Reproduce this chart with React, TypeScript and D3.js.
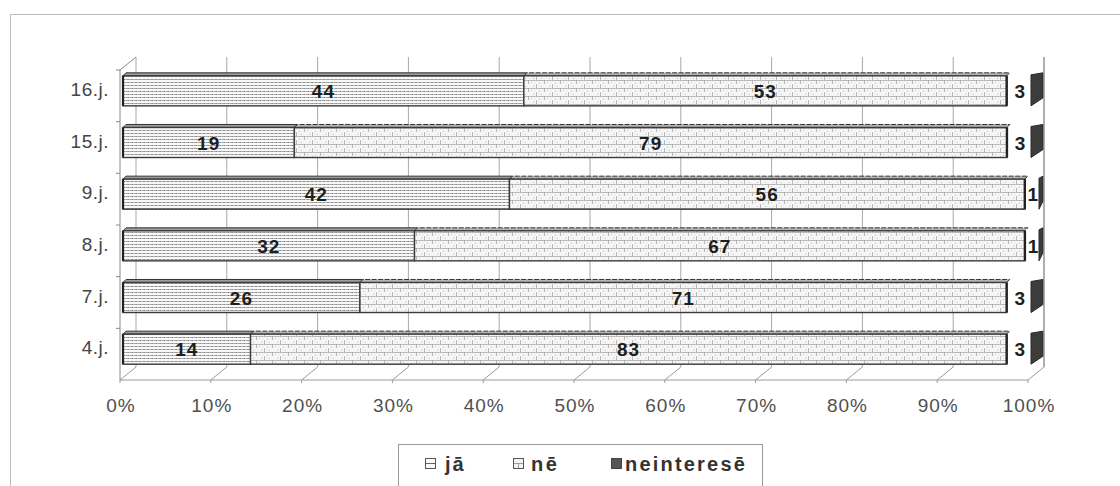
import React from "react";
import * as d3 from "d3";

const categories = ["16.j.", "15.j.", "9.j.", "8.j.", "7.j.", "4.j."];
const jaValues = [44, 19, 42, 32, 26, 14];
const neValues = [53, 79, 56, 67, 71, 83];
const neintValues = [3, 3, 1, 1, 3, 3];
const tickValues = [0, 10, 20, 30, 40, 50, 60, 70, 80, 90, 100];
const seriesNames = ["jā", "nē", "neinteresē"];

const W = 1120;
const H = 486;
const DX = 16;
const DY = -13;

export default function App() {
  const xFront = d3.scaleLinear().domain([0, 100]).range([120, 1028]);
  const xBar = d3.scaleLinear().domain([0, 100]).range([123, 1034]);
  const yAxis = d3.scaleBand().domain(categories).range([70, 380]).paddingInner(0.38).paddingOuter(0.19);
  const yBar = d3.scaleBand().domain(categories).range([63, 373]).paddingInner(0.38).paddingOuter(0.19);
  const sliverX = d3.scaleLinear().domain([0, 3]).range([xBar(100) + 9, xBar(100) - 3]);
  const bw = yBar.bandwidth();
  const step = yAxis.step();
  const floorY = 380;
  const topY = 70;

  const rows = categories.map((c, i) => {
    const total = jaValues[i] + neValues[i] + neintValues[i];
    const a = (jaValues[i] / total) * 100;
    const b = ((jaValues[i] + neValues[i]) / total) * 100;
    return { c, i, a, b, total };
  });

  const font = "'Liberation Sans', Arial, sans-serif";

  return (
    <svg width={W} height={H} style={{ position: "absolute", left: 0, top: 0, background: "#fff" }} fontFamily={font}>
      <defs>
        <pattern id="patJa" width={4} height={3} patternUnits="userSpaceOnUse">
          <rect width={4} height={3} fill="#f8f8f8" />
          <line x1={0} x2={4} y1={1.5} y2={1.5} stroke="#7a7a7a" strokeWidth={0.9} strokeDasharray="1.5,0.8" />
        </pattern>
        <pattern id="patNe" width={16} height={8} patternUnits="userSpaceOnUse">
          <rect width={16} height={8} fill="#f5f5f5" />
          <line x1={0} x2={16} y1={0.5} y2={0.5} stroke="#aaa" strokeWidth={0.8} />
          <line x1={0.5} x2={0.5} y1={0} y2={4} stroke="#aaa" strokeWidth={0.8} />
          <line x1={8.5} x2={8.5} y1={4} y2={8} stroke="#aaa" strokeWidth={0.8} />
          <rect x={3} y={2} width={1} height={1} fill="#c4c4c4" />
          <rect x={11} y={3} width={1} height={1} fill="#c4c4c4" />
          <rect x={5} y={6} width={1} height={1} fill="#c4c4c4" />
          <rect x={13} y={6} width={1} height={1} fill="#c4c4c4" />
        </pattern>
      </defs>

      {/* outer frame */}
      <rect x={10.5} y={14.5} width={1300} height={600} fill="none" stroke="#bdbdbd" strokeWidth={1} />

      {/* back wall gridlines */}
      {tickValues.map((t) => (
        <line key={"g" + t} x1={xFront(t) + DX} x2={xFront(t) + DX} y1={topY + DY} y2={floorY + DY} stroke="#a8a8a8" strokeWidth={1} />
      ))}
      {/* floor diagonals and front floor edge */}
      {tickValues.map((t) => (
        <g key={"f" + t}>
          <line x1={xFront(t)} y1={floorY} x2={xFront(t) + DX} y2={floorY + DY} stroke="#9a9a9a" strokeWidth={1} />
          <line x1={xFront(t)} y1={floorY} x2={xFront(t)} y2={floorY + 3} stroke="#9a9a9a" strokeWidth={1} />
        </g>
      ))}
      <line x1={xFront(0)} x2={xFront(100)} y1={floorY} y2={floorY} stroke="#9a9a9a" strokeWidth={1} />
      {/* left wall edges */}
      <line x1={xFront(0)} x2={xFront(0)} y1={topY} y2={floorY} stroke="#8a8a8a" strokeWidth={1} />
      <line x1={xFront(0)} y1={topY} x2={xFront(0) + DX} y2={topY + DY} stroke="#8a8a8a" strokeWidth={1} />
      {categories.map((c) => (
        <line key={"t" + c} x1={xFront(0) - 4} x2={xFront(0)} y1={(yAxis(c) as number) - (step - yAxis.bandwidth()) / 2} y2={(yAxis(c) as number) - (step - yAxis.bandwidth()) / 2} stroke="#8a8a8a" strokeWidth={1} />
      ))}

      {/* bars */}
      {rows.map((r) => {
        const y0 = yBar(r.c) as number;
        const yf = y0 + 3;
        const y1 = y0 + bw + 1;
        const x0 = xBar(0);
        const xa = xBar(r.a);
        const xb = xBar(r.b);
        const v = neintValues[r.i];
        const L = sliverX(v);
        const R = xBar(100) + 9;
        const ly = y0 + bw / 2 + 9;
        return (
          <g key={r.c}>
            {/* top faces */}
            <polygon points={`${x0},${yf} ${x0 + 3},${y0} ${xa + 3},${y0} ${xa},${yf}`} fill="#9c9c9c" stroke="#333" strokeWidth={1} />
            <polygon points={`${xa},${yf} ${xa + 3},${y0} ${xb + 3},${y0} ${xb},${yf}`} fill="#b4b4b4" stroke="#333" strokeWidth={1} strokeDasharray="5,1.5" />
            {/* front faces */}
            <rect x={x0} y={yf} width={xa - x0} height={y1 - yf} fill="url(#patJa)" stroke="#3a3a3a" strokeWidth={1.4} />
            <rect x={xa} y={yf} width={xb - xa} height={y1 - yf} fill="url(#patNe)" stroke="#3a3a3a" strokeWidth={1.4} />
            <line x1={x0} x2={x0} y1={yf} y2={y1} stroke="#222" strokeWidth={2.2} />
            <line x1={xb} x2={xb} y1={yf} y2={y1} stroke="#222" strokeWidth={2.4} />
            {/* dark end sliver for neinteresē */}
            <polygon points={`${L},${y0 + 2} ${R},${y0} ${R},${y1 - 8} ${L},${y1}`} fill="#3c3c3c" stroke="#2a2a2a" strokeWidth={1} />
            {/* labels */}
            <text x={(x0 + xa) / 2} y={ly} textAnchor="middle" fontSize={19} fontWeight="bold" fill="#1e1e1e" letterSpacing={1}>
              {jaValues[r.i]}
            </text>
            <text x={(xa + xb) / 2} y={ly} textAnchor="middle" fontSize={19} fontWeight="bold" fill="#1e1e1e" letterSpacing={1}>
              {neValues[r.i]}
            </text>
            <text x={(xb + L) / 2 + 1} y={ly} textAnchor="middle" fontSize={19} fontWeight="bold" fill="#1e1e1e">
              {v}
            </text>
          </g>
        );
      })}
      {/* right wall edge */}
      <line x1={xFront(100) + DX} x2={xFront(100) + DX} y1={topY + DY} y2={floorY + DY} stroke="#8a8a8a" strokeWidth={1} />

      {/* category labels */}
      {categories.map((c) => (
        <text key={"l" + c} x={109} y={(yBar(c) as number) + bw / 2 + 7} textAnchor="end" fontSize={19} fill="#454545" letterSpacing={0.5}>
          {c}
        </text>
      ))}
      {/* x tick labels */}
      {tickValues.map((t) => (
        <text key={"x" + t} x={xFront(t) + 1} y={412} textAnchor="middle" fontSize={19} fill="#505050" letterSpacing={1}>
          {t + "%"}
        </text>
      ))}

      {/* legend */}
      <rect x={398.5} y={444.5} width={364} height={80} fill="#fff" stroke="#9a9a9a" strokeWidth={1} />
      <g>
        <rect x={425.5} y={458.5} width={10} height={10} fill="#fafafa" stroke="#555" strokeWidth={1} />
        <line x1={426} x2={435} y1={463.5} y2={463.5} stroke="#666" strokeWidth={1} />
        <text x={445} y={471} fontSize={20} fontWeight="bold" fill="#333" letterSpacing={2}>{seriesNames[0]}</text>
        <rect x={513.5} y={458.5} width={10} height={10} fill="#f3f3f3" stroke="#555" strokeWidth={1} />
        <line x1={514} x2={523} y1={463.5} y2={463.5} stroke="#888" strokeWidth={0.8} />
        <line x1={518.5} x2={518.5} y1={463.5} y2={468} stroke="#888" strokeWidth={0.8} />
        <text x={531} y={471} fontSize={20} fontWeight="bold" fill="#333" letterSpacing={2.5}>{seriesNames[1]}</text>
        <rect x={611.5} y={458.5} width={10} height={10} fill="#555" stroke="#444" strokeWidth={1} />
        <text x={625} y={471} fontSize={20} fontWeight="bold" fill="#333" letterSpacing={2.2}>{seriesNames[2]}</text>
      </g>
    </svg>
  );
}
